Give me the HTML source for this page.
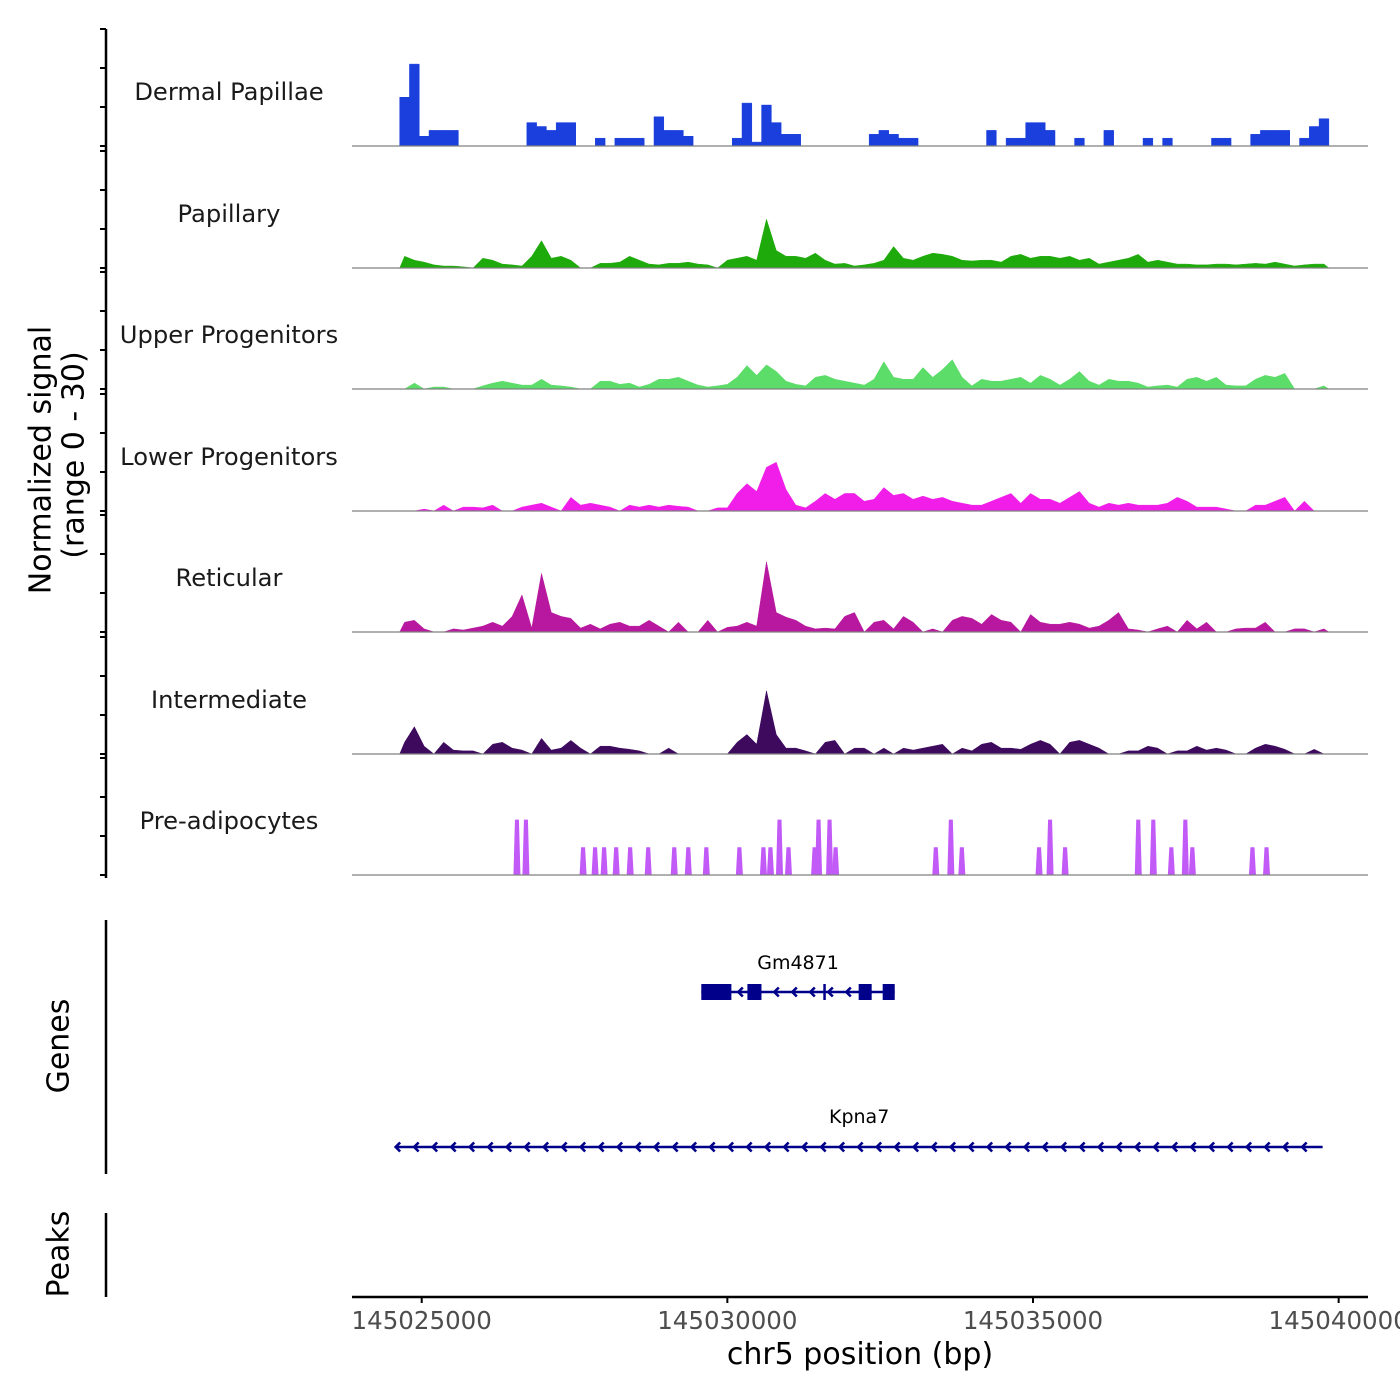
<!DOCTYPE html>
<html><head><meta charset="utf-8"><title>Genome tracks</title>
<style>
html,body{margin:0;padding:0;background:#fff;}
svg{display:block;font-family:"DejaVu Sans","Liberation Sans",sans-serif;}
</style></head>
<body>
<svg id="chart" width="1400" height="1400" viewBox="0 0 1400 1400" xmlns="http://www.w3.org/2000/svg">
<g id="axes"></g>
<g id="tracks"></g>
<g id="genes"></g>
<text x="42" y="460" transform="rotate(-90 42 460)" text-anchor="middle" dominant-baseline="middle" font-size="30" fill="#000">Normalized signal</text>
<text x="75" y="455" transform="rotate(-90 75 455)" text-anchor="middle" dominant-baseline="middle" font-size="30" fill="#000">(range 0 - 30)</text>
<text x="60" y="1046" transform="rotate(-90 60 1046)" text-anchor="middle" dominant-baseline="middle" font-size="30" fill="#000">Genes</text>
<text x="60" y="1254" transform="rotate(-90 60 1254)" text-anchor="middle" dominant-baseline="middle" font-size="30" fill="#000">Peaks</text>
<text x="860" y="1364" text-anchor="middle" font-size="30" fill="#000">chr5 position (bp)</text>
</svg>
<script>
// ---- data ----
const binStart = 145024640;
const binWidth = 160;
const trackNames = ["Dermal Papillae","Papillary","Upper Progenitors","Lower Progenitors","Reticular","Intermediate","Pre-adipocytes"];
const dermalPapillae = [12.5,21,2.5,4,4,4,0,0,0,0, 0,0,0,6,5,4,6,6,0,0, 2,0,2,2,2,0,7.5,4,4,2.5, 0,0,0,0,2,11,1,10.5,6,3, 3,0,0,0,0,0,0,0,3,4, 3,2,2,0,0,0,0,0,0,0, 4,0,2,2,6,6,4,0,0,2, 0,0,4,0,0,0,2,0,2,0, 0,0,0,2,2,0,0,3,4,4, 4,0,2,5,7];
const papillary = [3,2,1.5,0.8,0.5,0.5,0.3,0,2.5,2, 1,0.8,0.5,3,7,2.5,3,2,0,0, 1.2,1.2,1.5,3,2,1,0.8,1.2,1.2,1.5, 1,0.8,0,2,2.5,3,2,12.5,4.5,3, 3,2.5,3.8,2,1,1.2,0.5,0.8,1.2,2, 5.5,2.5,2,3,3.8,3.5,3,2,1.8,2, 2,1.5,3,3.5,2.5,3,3,2.5,3,2, 2.5,1,1.5,2,2.5,3.5,1.5,2,1.5,1, 1,0.8,0.8,1,1,0.8,1,1.2,1,1.5, 1,0.5,0.8,1,1];
const upperProgenitors = [0,1.5,0,0.5,0.5,0,0,0,0.8,1.5, 2,1.5,1,1,2.5,1,0.8,0.5,0,0, 2,2,1.2,1.5,0.5,1.2,2.5,2.5,3,2, 1,0.5,0.8,1.2,3,6,3.5,6.2,4.5,2, 1.2,0.8,3,3.5,2.5,2,1.5,1,2.5,7, 3,2.5,2.5,5.5,3,5,7.5,3,0.8,2.5, 2,2,2.5,3,1.5,3.5,2.5,1,2.5,4.5, 2,1,2.5,2,2,1.5,0.5,0.8,1,0.5, 2.5,3,2,3,1,0.8,0.8,2.5,3.5,3, 4,0,0,0,0.8];
const lowerProgenitors = [0,0,0.5,0,1.5,0,1,1,0.8,1.5, 0,0,1,1.5,2,1,0,3.5,1.5,2, 1.5,1,0,1.5,1,1.5,1,1.5,1.2,1, 0,0,0.8,0.8,4.5,7,5,11.2,12.5,5.5, 1.5,0.8,2.5,4.5,3,4.5,4.5,2.5,3,6, 4,4.5,3,3.8,3,3.5,2.5,2,1.5,1.5, 2.5,3.5,4.5,2,4.5,3,3,2,3.5,5, 2,1,2,1.5,2,1.5,1.5,1.5,2,3.5, 2.5,1,1,1,0.5,0,0,1.5,1.5,2.5, 3.5,0,2.5,0,0];
const reticular = [2.5,3,0.8,0,0,0.8,0.5,1,1.5,2.5, 1.5,4,9.5,1,15,5,4,3.5,1,2, 0.8,2,2.5,1.5,1.5,3,1.5,0,2.5,0, 0,3,0,1.2,1.5,2.5,1.5,18,5,3.8, 3,1.5,0.8,1,0.8,4,5,0,2.5,3, 0.8,4,2.5,0,0.8,0,3,4,3.5,2, 4.5,3,2.5,0,4.5,2.5,2,2,2.5,2, 1,1.5,3,5,0.8,0.5,0,0.8,1.5,0, 3,0.8,2.5,0,0,0.8,1,1,2.5,0, 0,0.8,0.8,0,0.8];
const intermediate = [3,7,2,0,3,1,0.8,0.8,0,2.5, 3,1.5,1,0,4,1,1.5,3.5,1.5,0, 2,2,1.5,1.2,0.8,0,0,1.5,0,0, 0,0,0,0,3,5,2.5,16.2,5,1.5, 1.5,0.8,0,3,3.5,0,1.5,1.5,0,1.5, 0,1.5,1,1.5,2,2.5,0,1.5,0.8,2.5, 3,1.5,1.5,1.2,2.5,3.5,2.5,0,3,3.5, 2.5,1.5,0,0,0.8,0.8,2,1.5,0,0.8, 0.8,2,1,1.5,1,0,0,1.5,2.5,2, 1.2,0,0,1.2,0];
const preAdipPositions = [145026558,145026705,145027640,145027836,145027984,145028181,145028410,145028705,145029131,145029361,145029656,145030197,145030590,145030705,145030853,145031000,145031427,145031492,145031672,145031771,145033410,145033656,145033836,145035099,145035279,145035525,145036722,145036968,145037263,145037492,145037607,145038590,145038820];
const preAdipValues = [14.2,14.2,7.1,7.1,7.1,7.1,7.1,7.1,7.1,7.1,7.1,7.1,7.1,7.1,14.2,7.1,7.1,14.2,14.2,7.1,7.1,14.2,7.1,7.1,14.2,7.1,14.2,14.2,7.1,14.2,7.1,7.1,7.1];
const xTickValues = [145025000,145030000,145035000,145040000];
const yTickValues = [0,10,20,30];
const gm4871 = {name:"Gm4871", start:145029574, end:145032738};
const gm4871Exons = [[145029574,145030066],[145030328,145030558],[145032148,145032361],[145032541,145032738]];
const gm4871Mark = 145031590;
const kpna7 = {name:"Kpna7", start:145024574, end:145039738};

// ---- scales ----
const colors = ["#1a3fdc","#1faa0c","#5cdc68","#f01ee8","#b8189f","#3d0a5e","#c25af8"];
const baselines = [146,268,389,511,632,754,875];
const pxPerUnit = 3.9;
function xScale(bp){ return 421.7 + (bp-145025000)*0.06113; }
function yScale(v, base){ return base - v*pxPerUnit; }
const NS = "http://www.w3.org/2000/svg";
function mk(tag, attrs, parent){ const e=document.createElementNS(NS,tag); for(const k in attrs) e.setAttribute(k,attrs[k]); parent.appendChild(e); return e; }

const axes = document.getElementById('axes');
const tracksG = document.getElementById('tracks');
const genesG = document.getElementById('genes');

// left axis
let ax = mk('line',{x1:106,x2:106,y1:yScale(30,baselines[0]),y2:baselines[6]+3,stroke:'#000','stroke-width':2.5},axes);


baselines.forEach(function(b){
  yTickValues.forEach(function(t){
    const tk = mk('line',{x1:100,x2:106,y1:yScale(t,b),y2:yScale(t,b),stroke:'#000','stroke-width':2},axes);
    
    
  });
});
let ga = mk('line',{x1:106,x2:106,y1:920,y2:1174,stroke:'#000','stroke-width':2.5},axes);


let pa = mk('line',{x1:106,x2:106,y1:1213,y2:1297,stroke:'#000','stroke-width':2.5},axes);


// x axis
let xa = mk('line',{x1:352,x2:1368,y1:1297,y2:1297,stroke:'#000','stroke-width':2.5},axes);


xTickValues.forEach(function(t){
  const x = xScale(t);
  const tk = mk('line',{x1:x,x2:x,y1:1297,y2:1303,stroke:'#000','stroke-width':2},axes);
  
  
  const tl = mk('text',{x:x,y:1329,'text-anchor':'middle','font-size':24.5,fill:'#4d4d4d'},axes);
  tl.textContent = String(t);
  
  
});

// signal tracks
const series = [dermalPapillae,papillary,upperProgenitors,lowerProgenitors,reticular,intermediate];
function binX(i){ return xScale(binStart + binWidth*i); }
series.forEach(function(vals, t){
  const b = baselines[t];
  let d = 'M'+binX(0)+','+b;
  for(let i=0;i<vals.length;i++){
    if(t===0){
      d += ' L'+binX(i)+','+yScale(vals[i],b)+' L'+binX(i+1)+','+yScale(vals[i],b);
    } else {
      d += ' L'+(binX(i)+binX(i+1))/2+','+yScale(vals[i],b);
    }
  }
  d += ' L'+binX(vals.length)+','+b+' Z';
  const p = mk('path',{d:d,fill:colors[t],stroke:colors[t],'stroke-width':0.5},tracksG);
  
  
});
// pre-adipocytes
(function(){
  const b = baselines[6];
  preAdipPositions.forEach(function(pos,i){
    const x = xScale(pos), v = preAdipValues[i];
    const p = mk('path',{d:'M'+(x-3.5)+','+b+' L'+(x-2)+','+yScale(v,b)+' L'+(x+2)+','+yScale(v,b)+' L'+(x+3.5)+','+b+' Z',fill:colors[6]},tracksG);
    
    
  });
})();
// baselines and labels
baselines.forEach(function(b,t){
  const l = mk('line',{x1:352,x2:1368,y1:b,y2:b,stroke:'#808080','stroke-width':1.2},tracksG);
  
  
  const tx = mk('text',{x:229,y:b-46,'text-anchor':'middle','font-size':24.2,fill:'#1a1a1a'},tracksG);
  tx.textContent = trackNames[t];
  
  
});

// genes
const geneColor = '#00008b';
function chevron(x,y,parent){
  const c = mk('polyline',{points:(x+4.5)+','+(y-4.5)+' '+x+','+y+' '+(x+4.5)+','+(y+4.5),fill:'none',stroke:geneColor,'stroke-width':2.6},parent);
  
  
}
(function(){
  const y = 992;
  const g = mk('g',{},genesG);
  
  
  const x1 = xScale(gm4871.start), x2 = xScale(gm4871.end);
  mk('line',{x1:x1,x2:x2,y1:y,y2:y,stroke:geneColor,'stroke-width':2.6},g);
  gm4871Exons.forEach(function(e){
    const r = mk('rect',{x:xScale(e[0]),y:y-8,width:xScale(e[1])-xScale(e[0]),height:16,fill:geneColor},g);
    
    
  });
  const mx = xScale(gm4871Mark);
  mk('line',{x1:mx,x2:mx,y1:y-8,y2:y+8,stroke:geneColor,'stroke-width':2.5},g);
  for(let x=x1+37; x<x2-10; x+=18){
    let inEx=false;
    gm4871Exons.forEach(function(e){ if(x>xScale(e[0])-6 && x<xScale(e[1])+1) inEx=true; });
    if(!inEx) chevron(x,y,g);
  }
  const t = mk('text',{x:(x1+x2)/2,y:y-23,'text-anchor':'middle','font-size':19,fill:'#000'},g);
  t.textContent = gm4871.name;
  
  
})();
(function(){
  const y = 1147;
  const g = mk('g',{},genesG);
  
  
  const x1 = xScale(kpna7.start), x2 = xScale(kpna7.end);
  mk('line',{x1:x1,x2:x2,y1:y,y2:y,stroke:geneColor,'stroke-width':2.6},g);
  for(let x=x1; x<x2-10; x+=18.5){ chevron(x,y,g); }
  const t = mk('text',{x:(x1+x2)/2,y:y-24,'text-anchor':'middle','font-size':19,fill:'#000'},g);
  t.textContent = kpna7.name;
  
  
})();
</script>
</body></html>
